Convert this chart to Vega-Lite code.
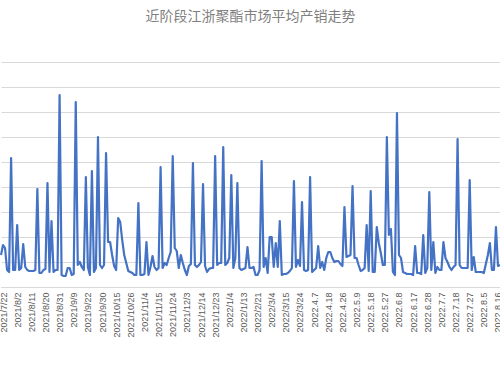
{
  "$schema": "https://vega.github.io/schema/vega-lite/v6.json",
  "width": 499,
  "height": 225,
  "autosize": {"type": "none"},
  "padding": {"left": 1, "top": 62, "right": 0, "bottom": 88},
  "background": "white",
  "title": {"text": "近阶段江浙聚酯市场平均产销走势", "font": "Noto Sans CJK SC", "fontSize": 14, "fontWeight": "normal", "color": "#7f7f7f", "offset": 38, "anchor": "middle"},
  "config": {"view": {"stroke": null}},
  "data": {"values": [
    {"d":"2021/7/21","v":64},{"d":"2021/7/22","v":84},{"d":"2021/7/23","v":78},{"d":"2021/7/26","v":34},{"d":"2021/7/27","v":30},{"d":"2021/7/28","v":258},{"d":"2021/7/29","v":34},{"d":"2021/7/30","v":34},{"d":"2021/8/2","v":124},{"d":"2021/8/3","v":34},
    {"d":"2021/8/4","v":38},{"d":"2021/8/5","v":86},{"d":"2021/8/6","v":40},{"d":"2021/8/9","v":34},{"d":"2021/8/10","v":32},{"d":"2021/8/11","v":32},{"d":"2021/8/12","v":32},{"d":"2021/8/13","v":34},{"d":"2021/8/16","v":196},{"d":"2021/8/17","v":28},
    {"d":"2021/8/18","v":28},{"d":"2021/8/19","v":34},{"d":"2021/8/20","v":36},{"d":"2021/8/23","v":208},{"d":"2021/8/24","v":30},{"d":"2021/8/25","v":132},{"d":"2021/8/26","v":30},{"d":"2021/8/27","v":34},{"d":"2021/8/30","v":34},{"d":"2021/8/31","v":384},
    {"d":"2021/9/1","v":24},{"d":"2021/9/2","v":22},{"d":"2021/9/3","v":22},{"d":"2021/9/6","v":38},{"d":"2021/9/7","v":38},{"d":"2021/9/8","v":24},{"d":"2021/9/9","v":26},{"d":"2021/9/10","v":370},{"d":"2021/9/13","v":44},{"d":"2021/9/14","v":50},
    {"d":"2021/9/15","v":40},{"d":"2021/9/16","v":34},{"d":"2021/9/17","v":220},{"d":"2021/9/22","v":40},{"d":"2021/9/23","v":24},{"d":"2021/9/24","v":232},{"d":"2021/9/26","v":30},{"d":"2021/9/27","v":38},{"d":"2021/9/28","v":300},{"d":"2021/9/29","v":44},
    {"d":"2021/9/30","v":38},{"d":"2021/10/8","v":44},{"d":"2021/10/9","v":268},{"d":"2021/10/11","v":90},{"d":"2021/10/12","v":90},{"d":"2021/10/13","v":64},{"d":"2021/10/14","v":42},{"d":"2021/10/15","v":34},{"d":"2021/10/18","v":138},{"d":"2021/10/19","v":130},
    {"d":"2021/10/20","v":94},{"d":"2021/10/21","v":64},{"d":"2021/10/22","v":48},{"d":"2021/10/25","v":32},{"d":"2021/10/26","v":30},{"d":"2021/10/27","v":28},{"d":"2021/10/28","v":24},{"d":"2021/10/29","v":24},{"d":"2021/11/1","v":168},{"d":"2021/11/2","v":24},
    {"d":"2021/11/3","v":24},{"d":"2021/11/4","v":26},{"d":"2021/11/5","v":90},{"d":"2021/11/8","v":24},{"d":"2021/11/9","v":40},{"d":"2021/11/10","v":62},{"d":"2021/11/11","v":40},{"d":"2021/11/12","v":34},{"d":"2021/11/15","v":38},{"d":"2021/11/16","v":240},
    {"d":"2021/11/17","v":38},{"d":"2021/11/18","v":48},{"d":"2021/11/19","v":44},{"d":"2021/11/22","v":58},{"d":"2021/11/23","v":70},{"d":"2021/11/24","v":262},{"d":"2021/11/25","v":78},{"d":"2021/11/26","v":72},{"d":"2021/11/29","v":38},{"d":"2021/11/30","v":64},
    {"d":"2021/12/1","v":48},{"d":"2021/12/2","v":34},{"d":"2021/12/3","v":24},{"d":"2021/12/6","v":42},{"d":"2021/12/7","v":46},{"d":"2021/12/8","v":248},{"d":"2021/12/9","v":44},{"d":"2021/12/10","v":40},{"d":"2021/12/13","v":44},{"d":"2021/12/14","v":50},
    {"d":"2021/12/15","v":206},{"d":"2021/12/16","v":42},{"d":"2021/12/17","v":30},{"d":"2021/12/20","v":36},{"d":"2021/12/21","v":38},{"d":"2021/12/22","v":38},{"d":"2021/12/23","v":262},{"d":"2021/12/24","v":44},{"d":"2021/12/27","v":48},{"d":"2021/12/28","v":48},
    {"d":"2021/12/29","v":280},{"d":"2021/12/30","v":44},{"d":"2021/12/31","v":48},{"d":"2022/1/4","v":58},{"d":"2022/1/5","v":224},{"d":"2022/1/6","v":38},{"d":"2022/1/7","v":58},{"d":"2022/1/10","v":208},{"d":"2022/1/11","v":38},{"d":"2022/1/12","v":34},
    {"d":"2022/1/13","v":36},{"d":"2022/1/14","v":38},{"d":"2022/1/17","v":80},{"d":"2022/1/18","v":38},{"d":"2022/1/19","v":38},{"d":"2022/1/20","v":40},{"d":"2022/2/18","v":24},{"d":"2022/2/21","v":24},{"d":"2022/2/22","v":34},{"d":"2022/2/23","v":252},
    {"d":"2022/2/24","v":40},{"d":"2022/2/25","v":58},{"d":"2022/2/28","v":28},{"d":"2022/3/1","v":100},{"d":"2022/3/4","v":100},{"d":"2022/3/7","v":40},{"d":"2022/3/8","v":88},{"d":"2022/3/9","v":40},{"d":"2022/3/10","v":132},{"d":"2022/3/11","v":24},
    {"d":"2022/3/14","v":26},{"d":"2022/3/15","v":26},{"d":"2022/3/16","v":28},{"d":"2022/3/17","v":32},{"d":"2022/3/18","v":38},{"d":"2022/3/21","v":212},{"d":"2022/3/22","v":40},{"d":"2022/3/23","v":54},{"d":"2022/3/24","v":42},{"d":"2022.3.25","v":170},
    {"d":"2022.3.28","v":34},{"d":"2022.3.29","v":32},{"d":"2022.3.30","v":34},{"d":"2022.3.31","v":220},{"d":"2022.4.1","v":30},{"d":"2022.4.7","v":34},{"d":"2022.4.8","v":38},{"d":"2022.4.11","v":82},{"d":"2022.4.12","v":38},{"d":"2022.4.13","v":50},
    {"d":"2022.4.14","v":34},{"d":"2022.4.15","v":58},{"d":"2022.4.18","v":70},{"d":"2022.4.19","v":70},{"d":"2022.4.20","v":58},{"d":"2022.4.21","v":50},{"d":"2022.4.22","v":52},{"d":"2022.4.24","v":52},{"d":"2022.4.25","v":46},{"d":"2022.4.26","v":42},
    {"d":"2022.4.27","v":160},{"d":"2022.4.28","v":60},{"d":"2022.4.29","v":62},{"d":"2022.5.5","v":64},{"d":"2022.5.6","v":202},{"d":"2022.5.7","v":58},{"d":"2022.5.9","v":58},{"d":"2022.5.10","v":44},{"d":"2022.5.11","v":32},{"d":"2022.5.12","v":34},
    {"d":"2022.5.13","v":38},{"d":"2022.5.16","v":124},{"d":"2022.5.17","v":32},{"d":"2022.5.18","v":192},{"d":"2022.5.19","v":30},{"d":"2022.5.20","v":30},{"d":"2022.5.23","v":120},{"d":"2022.5.24","v":88},{"d":"2022.5.25","v":68},{"d":"2022.5.26","v":44},
    {"d":"2022.5.27","v":44},{"d":"2022.5.30","v":300},{"d":"2022.5.31","v":104},{"d":"2022.6.1","v":116},{"d":"2022.6.2","v":30},{"d":"2022.6.6","v":24},{"d":"2022.6.7","v":348},{"d":"2022.6.8","v":64},{"d":"2022.6.9","v":58},{"d":"2022.6.10","v":30},
    {"d":"2022.6.13","v":28},{"d":"2022.6.14","v":26},{"d":"2022.6.15","v":26},{"d":"2022.6.16","v":26},{"d":"2022.6.17","v":24},{"d":"2022.6.20","v":82},{"d":"2022.6.21","v":28},{"d":"2022.6.22","v":28},{"d":"2022.6.23","v":26},{"d":"2022.6.24","v":104},
    {"d":"2022.6.27","v":28},{"d":"2022.6.28","v":38},{"d":"2022.6.29","v":190},{"d":"2022.6.30","v":34},{"d":"2022.7.1","v":90},{"d":"2022.7.4","v":28},{"d":"2022.7.5","v":40},{"d":"2022.7.6","v":34},{"d":"2022.7.7","v":34},{"d":"2022.7.8","v":90},
    {"d":"2022.7.11","v":58},{"d":"2022.7.12","v":50},{"d":"2022.7.13","v":40},{"d":"2022.7.14","v":34},{"d":"2022.7.15","v":40},{"d":"2022.7.18","v":44},{"d":"2022.7.19","v":296},{"d":"2022.7.20","v":44},{"d":"2022.7.21","v":38},{"d":"2022.7.22","v":38},
    {"d":"2022.7.25","v":38},{"d":"2022.7.26","v":38},{"d":"2022.7.27","v":214},{"d":"2022.7.28","v":34},{"d":"2022.7.29","v":60},{"d":"2022.8.1","v":30},{"d":"2022.8.2","v":30},{"d":"2022.8.3","v":30},{"d":"2022.8.4","v":30},{"d":"2022.8.5","v":28},
    {"d":"2022.8.8","v":46},{"d":"2022.8.9","v":64},{"d":"2022.8.10","v":88},{"d":"2022.8.11","v":34},{"d":"2022.8.12","v":34},{"d":"2022.8.15","v":120},{"d":"2022.8.16","v":42},{"d":"2022.8.17","v":44}
  ]},
  "mark": {"type": "line", "color": "#4472C4", "strokeWidth": 2.2, "strokeJoin": "round"},
  "encoding": {
    "x": {"field": "d", "type": "ordinal", "sort": null, "title": null,
      "scale": {"type": "point", "padding": 0},
      "axis": {"values": ["2021/7/22","2021/8/2","2021/8/11","2021/8/20","2021/8/31","2021/9/9","2021/9/22","2021/9/30","2021/10/15","2021/10/26","2021/11/4","2021/11/15","2021/11/24","2021/12/3","2021/12/14","2021/12/23","2022/1/4","2022/1/13","2022/2/21","2022/3/4","2022/3/15","2022/3/24","2022.4.7","2022.4.18","2022.4.26","2022.5.9","2022.5.18","2022.5.27","2022.6.8","2022.6.17","2022.6.28","2022.7.7","2022.7.18","2022.7.27","2022.8.5","2022.8.16"],
        "labelAngle": 270, "labelAlign": "right", "labelBaseline": "middle", "labelFont": "Liberation Sans", "labelFontSize": 9, "labelColor": "#595959", "labelPadding": 5, "ticks": false, "domainColor": "#d9d9d9", "domainWidth": 1, "labelOverlap": false, "grid": false}},
    "y": {"field": "v", "type": "quantitative", "title": null,
      "scale": {"domain": [0, 450], "nice": false, "zero": true},
      "axis": {"values": [0,50,100,150,200,250,300,350,400,450], "labels": false, "ticks": false, "domain": false, "grid": true, "gridColor": "#d9d9d9", "gridWidth": 1}}
  }
}
